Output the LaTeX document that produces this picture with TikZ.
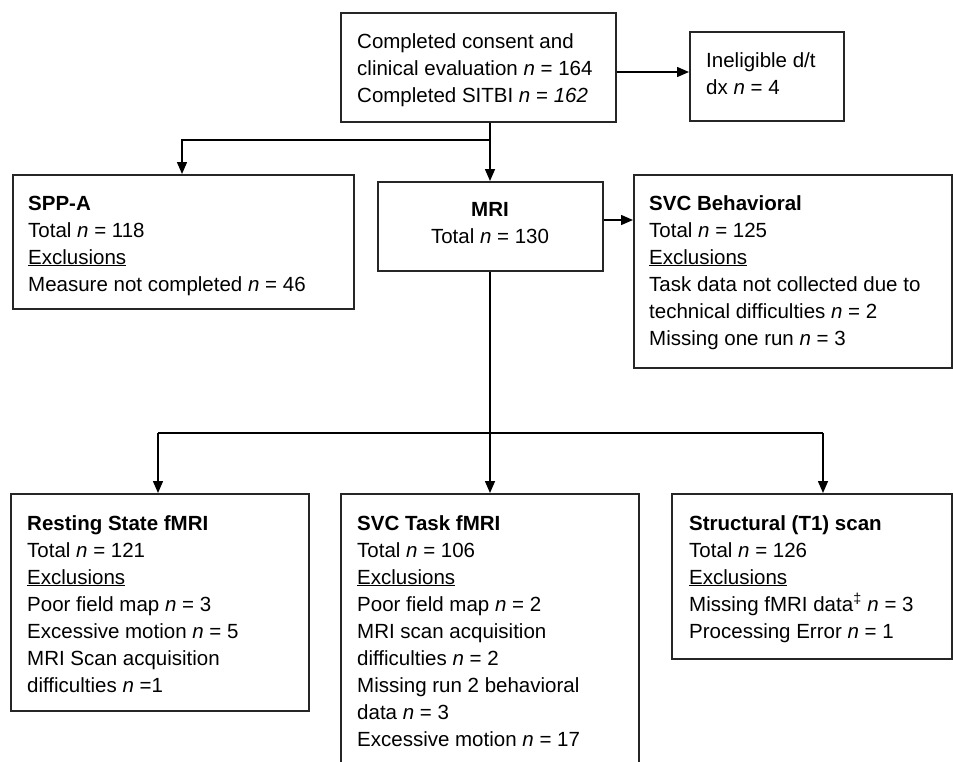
\documentclass[tikz,border=0pt]{standalone}
\usepackage{fontspec}
\setmainfont{Liberation Sans}
\usetikzlibrary{arrows.meta}
\begin{document}
\begin{tikzpicture}[x=1pt,y=-1pt,
  box/.style={draw=black!85, line width=1.5pt},
  txt/.style={anchor=base west, inner sep=0pt, align=left, font=\fontsize{20.5}{27}\selectfont},
  ctxt/.style={anchor=base, inner sep=0pt, align=center, font=\fontsize{20.5}{27}\selectfont},
  conn/.style={draw=black, line width=1.5pt},
  arr/.style={conn, -{Triangle[length=12pt,width=10pt]}}]
\useasboundingbox (0,0) rectangle (953,761);
% boxes
\node[box, inner sep=0pt, minimum width=275pt, minimum height=109pt, anchor=north west] (top) at (340,12) {};
\node[box, inner sep=0pt, minimum width=154pt, minimum height=89pt, anchor=north west] (inel) at (689,31) {};
\node[box, inner sep=0pt, minimum width=341pt, minimum height=134pt, anchor=north west] (spp) at (12,174) {};
\node[box, inner sep=0pt, minimum width=225pt, minimum height=89pt, anchor=north west] (mri) at (377,181) {};
\node[box, inner sep=0pt, minimum width=318pt, minimum height=193pt, anchor=north west] (svcb) at (633,174) {};
\node[box, inner sep=0pt, minimum width=298pt, minimum height=217pt, anchor=north west] (rest) at (10,493) {};
\node[box, inner sep=0pt, minimum width=298pt, minimum height=290pt, anchor=north west] (task) at (340,493) {};
\node[box, inner sep=0pt, minimum width=280pt, minimum height=165pt, anchor=north west] (struct) at (671,493) {};
% texts (anchor = baseline of the last line)
\node[txt] (topt) at (357,102) {Completed consent and\\clinical evaluation \textit{n} = 164\\Completed SITBI \textit{n} = \textit{162}};
\node[txt] (inelt) at (706,94) {Ineligible d/t\\dx \textit{n} = 4};
\node[txt] (sppt) at (28,291) {\textbf{SPP-A}\\Total \textit{n} = 118\\\underline{Exclusions}\\Measure not completed \textit{n} = 46};
\node[ctxt] (mrit) at (490,243) {\textbf{MRI}\\Total \textit{n} = 130};
\node[txt] (svcbt) at (649,345) {\textbf{SVC Behavioral}\\Total \textit{n} = 125\\\underline{Exclusions}\\Task data not collected due to\\technical difficulties \textit{n} = 2\\Missing one run \textit{n} = 3};
\node[txt] (restt) at (27,692) {\textbf{Resting State fMRI}\\Total \textit{n} = 121\\\underline{Exclusions}\\Poor field map \textit{n} = 3\\Excessive motion \textit{n} = 5\\MRI Scan acquisition\\difficulties \textit{n} =1};
\node[txt] (taskt) at (357,746) {\textbf{SVC Task fMRI}\\Total \textit{n} = 106\\\underline{Exclusions}\\Poor field map \textit{n} = 2\\MRI scan acquisition\\difficulties \textit{n} = 2\\Missing run 2 behavioral\\data \textit{n} = 3\\Excessive motion \textit{n} = 17};
\node[txt] (structt) at (689,638) {\textbf{Structural (T1) scan}\\Total \textit{n} = 126\\\underline{Exclusions}\\Missing fMRI data\textsuperscript{‡} \textit{n} = 3\\Processing Error \textit{n} = 1};
% junction coordinates
\coordinate (j1) at (490,140);
\coordinate (j2) at (490,433);
\coordinate (jl) at (158,433);
\coordinate (jr) at (823,433);
% connectors
\draw[arr] (top.east |- 0,72) -- (inel.west |- 0,72);
\draw[arr] (top.south -| j1) -- (mri.north -| j1);
\draw[arr] (j1) -- (182,140) -- (spp.north -| 182,0);
\draw[arr] (mri.east |- 0,220) -- (svcb.west |- 0,220);
\draw[arr] (mri.south -| j2) -- (rest.north -| j2);
\draw[arr] (jl) -- (rest.north -| jl);
\draw[arr] (jr) -- (struct.north -| jr);
\draw[conn] (jl) -- (jr);
\end{tikzpicture}
\end{document}
